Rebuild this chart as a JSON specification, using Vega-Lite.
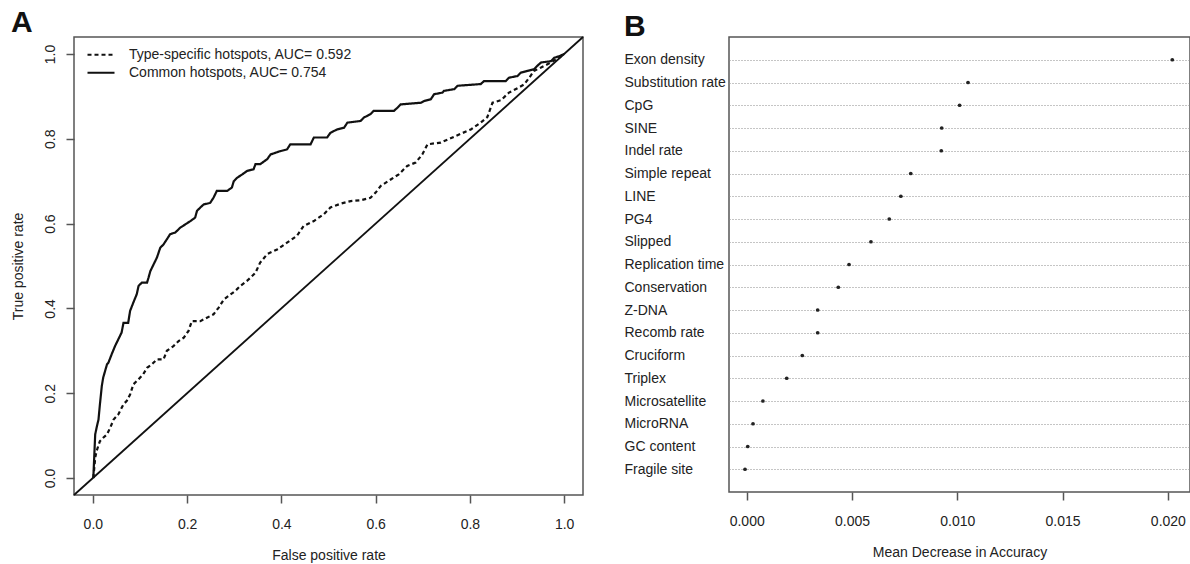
{
  "$schema": "https://vega.github.io/schema/vega-lite/v6.json",
  "background": "white",
  "padding": {"left": 10, "top": 7, "right": 0, "bottom": 0},
  "spacing": 146,
  "bounds": "flush",
  "resolve": {"scale": {"strokeDash": "independent"}, "legend": {"strokeDash": "independent"}},
  "hconcat": [
    {
      "width": 509,
      "height": 458,
      "title": {"text": "A"},
      "encoding": {
        "x": {"field": "x", "type": "quantitative", "scale": {"domain": [-0.04, 1.04], "nice": false, "zero": false},
          "axis": {"values": [0, 0.2, 0.4, 0.6, 0.8, 1], "format": ".1f", "title": "False positive rate", "labelPadding": 14, "titlePadding": 17, "labelFlush": false}},
        "y": {"field": "y", "type": "quantitative", "scale": {"domain": [-0.04, 1.04], "nice": false, "zero": false},
          "axis": {"values": [0, 0.2, 0.4, 0.6, 0.8, 1], "format": ".1f", "title": "True positive rate", "labelAngle": -90, "labelAlign": "center", "labelBaseline": "bottom", "labelPadding": 9, "titlePadding": 18, "labelFlush": false}}
      },
      "layer": [
        {
          "data": {"values": [{"x": -0.04, "y": -0.04}, {"x": 1.04, "y": 1.04}]},
          "mark": {"type": "line", "color": "#111", "strokeWidth": 1.8}
        },
        {
          "data": {"values": [
            {"s": "Type-specific hotspots, AUC= 0.592", "i": 0, "x": 0.001, "y": 0},
            {"s": "Type-specific hotspots, AUC= 0.592", "i": 1, "x": 0.005, "y": 0.048},
            {"s": "Type-specific hotspots, AUC= 0.592", "i": 2, "x": 0.008, "y": 0.064},
            {"s": "Type-specific hotspots, AUC= 0.592", "i": 3, "x": 0.015, "y": 0.087},
            {"s": "Type-specific hotspots, AUC= 0.592", "i": 4, "x": 0.022, "y": 0.095},
            {"s": "Type-specific hotspots, AUC= 0.592", "i": 5, "x": 0.030, "y": 0.103},
            {"s": "Type-specific hotspots, AUC= 0.592", "i": 6, "x": 0.037, "y": 0.119},
            {"s": "Type-specific hotspots, AUC= 0.592", "i": 7, "x": 0.044, "y": 0.138},
            {"s": "Type-specific hotspots, AUC= 0.592", "i": 8, "x": 0.054, "y": 0.150},
            {"s": "Type-specific hotspots, AUC= 0.592", "i": 9, "x": 0.065, "y": 0.174},
            {"s": "Type-specific hotspots, AUC= 0.592", "i": 10, "x": 0.072, "y": 0.182},
            {"s": "Type-specific hotspots, AUC= 0.592", "i": 11, "x": 0.079, "y": 0.197},
            {"s": "Type-specific hotspots, AUC= 0.592", "i": 12, "x": 0.086, "y": 0.221},
            {"s": "Type-specific hotspots, AUC= 0.592", "i": 13, "x": 0.097, "y": 0.233},
            {"s": "Type-specific hotspots, AUC= 0.592", "i": 14, "x": 0.107, "y": 0.245},
            {"s": "Type-specific hotspots, AUC= 0.592", "i": 15, "x": 0.115, "y": 0.260},
            {"s": "Type-specific hotspots, AUC= 0.592", "i": 16, "x": 0.125, "y": 0.268},
            {"s": "Type-specific hotspots, AUC= 0.592", "i": 17, "x": 0.136, "y": 0.280},
            {"s": "Type-specific hotspots, AUC= 0.592", "i": 18, "x": 0.150, "y": 0.280},
            {"s": "Type-specific hotspots, AUC= 0.592", "i": 19, "x": 0.157, "y": 0.300},
            {"s": "Type-specific hotspots, AUC= 0.592", "i": 20, "x": 0.171, "y": 0.311},
            {"s": "Type-specific hotspots, AUC= 0.592", "i": 21, "x": 0.182, "y": 0.323},
            {"s": "Type-specific hotspots, AUC= 0.592", "i": 22, "x": 0.193, "y": 0.331},
            {"s": "Type-specific hotspots, AUC= 0.592", "i": 23, "x": 0.203, "y": 0.347},
            {"s": "Type-specific hotspots, AUC= 0.592", "i": 24, "x": 0.210, "y": 0.370},
            {"s": "Type-specific hotspots, AUC= 0.592", "i": 25, "x": 0.228, "y": 0.370},
            {"s": "Type-specific hotspots, AUC= 0.592", "i": 26, "x": 0.242, "y": 0.378},
            {"s": "Type-specific hotspots, AUC= 0.592", "i": 27, "x": 0.256, "y": 0.386},
            {"s": "Type-specific hotspots, AUC= 0.592", "i": 28, "x": 0.267, "y": 0.402},
            {"s": "Type-specific hotspots, AUC= 0.592", "i": 29, "x": 0.278, "y": 0.421},
            {"s": "Type-specific hotspots, AUC= 0.592", "i": 30, "x": 0.292, "y": 0.433},
            {"s": "Type-specific hotspots, AUC= 0.592", "i": 31, "x": 0.302, "y": 0.441},
            {"s": "Type-specific hotspots, AUC= 0.592", "i": 32, "x": 0.313, "y": 0.453},
            {"s": "Type-specific hotspots, AUC= 0.592", "i": 33, "x": 0.327, "y": 0.465},
            {"s": "Type-specific hotspots, AUC= 0.592", "i": 34, "x": 0.334, "y": 0.472},
            {"s": "Type-specific hotspots, AUC= 0.592", "i": 35, "x": 0.345, "y": 0.484},
            {"s": "Type-specific hotspots, AUC= 0.592", "i": 36, "x": 0.355, "y": 0.508},
            {"s": "Type-specific hotspots, AUC= 0.592", "i": 37, "x": 0.370, "y": 0.528},
            {"s": "Type-specific hotspots, AUC= 0.592", "i": 38, "x": 0.391, "y": 0.539},
            {"s": "Type-specific hotspots, AUC= 0.592", "i": 39, "x": 0.412, "y": 0.555},
            {"s": "Type-specific hotspots, AUC= 0.592", "i": 40, "x": 0.433, "y": 0.571},
            {"s": "Type-specific hotspots, AUC= 0.592", "i": 41, "x": 0.447, "y": 0.594},
            {"s": "Type-specific hotspots, AUC= 0.592", "i": 42, "x": 0.469, "y": 0.606},
            {"s": "Type-specific hotspots, AUC= 0.592", "i": 43, "x": 0.490, "y": 0.622},
            {"s": "Type-specific hotspots, AUC= 0.592", "i": 44, "x": 0.504, "y": 0.638},
            {"s": "Type-specific hotspots, AUC= 0.592", "i": 45, "x": 0.526, "y": 0.647},
            {"s": "Type-specific hotspots, AUC= 0.592", "i": 46, "x": 0.547, "y": 0.653},
            {"s": "Type-specific hotspots, AUC= 0.592", "i": 47, "x": 0.568, "y": 0.655},
            {"s": "Type-specific hotspots, AUC= 0.592", "i": 48, "x": 0.589, "y": 0.661},
            {"s": "Type-specific hotspots, AUC= 0.592", "i": 49, "x": 0.600, "y": 0.673},
            {"s": "Type-specific hotspots, AUC= 0.592", "i": 50, "x": 0.611, "y": 0.689},
            {"s": "Type-specific hotspots, AUC= 0.592", "i": 51, "x": 0.632, "y": 0.704},
            {"s": "Type-specific hotspots, AUC= 0.592", "i": 52, "x": 0.649, "y": 0.716},
            {"s": "Type-specific hotspots, AUC= 0.592", "i": 53, "x": 0.667, "y": 0.736},
            {"s": "Type-specific hotspots, AUC= 0.592", "i": 54, "x": 0.685, "y": 0.744},
            {"s": "Type-specific hotspots, AUC= 0.592", "i": 55, "x": 0.699, "y": 0.763},
            {"s": "Type-specific hotspots, AUC= 0.592", "i": 56, "x": 0.710, "y": 0.787},
            {"s": "Type-specific hotspots, AUC= 0.592", "i": 57, "x": 0.738, "y": 0.791},
            {"s": "Type-specific hotspots, AUC= 0.592", "i": 58, "x": 0.759, "y": 0.801},
            {"s": "Type-specific hotspots, AUC= 0.592", "i": 59, "x": 0.781, "y": 0.812},
            {"s": "Type-specific hotspots, AUC= 0.592", "i": 60, "x": 0.802, "y": 0.822},
            {"s": "Type-specific hotspots, AUC= 0.592", "i": 61, "x": 0.823, "y": 0.838},
            {"s": "Type-specific hotspots, AUC= 0.592", "i": 62, "x": 0.837, "y": 0.851},
            {"s": "Type-specific hotspots, AUC= 0.592", "i": 63, "x": 0.848, "y": 0.885},
            {"s": "Type-specific hotspots, AUC= 0.592", "i": 64, "x": 0.866, "y": 0.891},
            {"s": "Type-specific hotspots, AUC= 0.592", "i": 65, "x": 0.883, "y": 0.909},
            {"s": "Type-specific hotspots, AUC= 0.592", "i": 66, "x": 0.901, "y": 0.919},
            {"s": "Type-specific hotspots, AUC= 0.592", "i": 67, "x": 0.915, "y": 0.928},
            {"s": "Type-specific hotspots, AUC= 0.592", "i": 68, "x": 0.926, "y": 0.944},
            {"s": "Type-specific hotspots, AUC= 0.592", "i": 69, "x": 0.936, "y": 0.960},
            {"s": "Type-specific hotspots, AUC= 0.592", "i": 70, "x": 0.951, "y": 0.968},
            {"s": "Type-specific hotspots, AUC= 0.592", "i": 71, "x": 0.972, "y": 0.980},
            {"s": "Type-specific hotspots, AUC= 0.592", "i": 72, "x": 0.990, "y": 0.992},
            {"s": "Type-specific hotspots, AUC= 0.592", "i": 73, "x": 1.0, "y": 1.0},
            {"s": "Common hotspots, AUC= 0.754", "i": 0, "x": 0.001, "y": 0},
            {"s": "Common hotspots, AUC= 0.754", "i": 1, "x": 0.005, "y": 0.103},
            {"s": "Common hotspots, AUC= 0.754", "i": 2, "x": 0.008, "y": 0.119},
            {"s": "Common hotspots, AUC= 0.754", "i": 3, "x": 0.012, "y": 0.138},
            {"s": "Common hotspots, AUC= 0.754", "i": 4, "x": 0.015, "y": 0.174},
            {"s": "Common hotspots, AUC= 0.754", "i": 5, "x": 0.019, "y": 0.217},
            {"s": "Common hotspots, AUC= 0.754", "i": 6, "x": 0.022, "y": 0.237},
            {"s": "Common hotspots, AUC= 0.754", "i": 7, "x": 0.030, "y": 0.268},
            {"s": "Common hotspots, AUC= 0.754", "i": 8, "x": 0.033, "y": 0.272},
            {"s": "Common hotspots, AUC= 0.754", "i": 9, "x": 0.040, "y": 0.292},
            {"s": "Common hotspots, AUC= 0.754", "i": 10, "x": 0.047, "y": 0.311},
            {"s": "Common hotspots, AUC= 0.754", "i": 11, "x": 0.054, "y": 0.327},
            {"s": "Common hotspots, AUC= 0.754", "i": 12, "x": 0.061, "y": 0.343},
            {"s": "Common hotspots, AUC= 0.754", "i": 13, "x": 0.065, "y": 0.366},
            {"s": "Common hotspots, AUC= 0.754", "i": 14, "x": 0.075, "y": 0.366},
            {"s": "Common hotspots, AUC= 0.754", "i": 15, "x": 0.079, "y": 0.394},
            {"s": "Common hotspots, AUC= 0.754", "i": 16, "x": 0.086, "y": 0.414},
            {"s": "Common hotspots, AUC= 0.754", "i": 17, "x": 0.093, "y": 0.433},
            {"s": "Common hotspots, AUC= 0.754", "i": 18, "x": 0.097, "y": 0.453},
            {"s": "Common hotspots, AUC= 0.754", "i": 19, "x": 0.104, "y": 0.461},
            {"s": "Common hotspots, AUC= 0.754", "i": 20, "x": 0.115, "y": 0.461},
            {"s": "Common hotspots, AUC= 0.754", "i": 21, "x": 0.118, "y": 0.472},
            {"s": "Common hotspots, AUC= 0.754", "i": 22, "x": 0.122, "y": 0.488},
            {"s": "Common hotspots, AUC= 0.754", "i": 23, "x": 0.129, "y": 0.504},
            {"s": "Common hotspots, AUC= 0.754", "i": 24, "x": 0.136, "y": 0.520},
            {"s": "Common hotspots, AUC= 0.754", "i": 25, "x": 0.143, "y": 0.543},
            {"s": "Common hotspots, AUC= 0.754", "i": 26, "x": 0.150, "y": 0.551},
            {"s": "Common hotspots, AUC= 0.754", "i": 27, "x": 0.157, "y": 0.563},
            {"s": "Common hotspots, AUC= 0.754", "i": 28, "x": 0.164, "y": 0.575},
            {"s": "Common hotspots, AUC= 0.754", "i": 29, "x": 0.175, "y": 0.579},
            {"s": "Common hotspots, AUC= 0.754", "i": 30, "x": 0.185, "y": 0.590},
            {"s": "Common hotspots, AUC= 0.754", "i": 31, "x": 0.196, "y": 0.598},
            {"s": "Common hotspots, AUC= 0.754", "i": 32, "x": 0.207, "y": 0.606},
            {"s": "Common hotspots, AUC= 0.754", "i": 33, "x": 0.217, "y": 0.614},
            {"s": "Common hotspots, AUC= 0.754", "i": 34, "x": 0.221, "y": 0.630},
            {"s": "Common hotspots, AUC= 0.754", "i": 35, "x": 0.228, "y": 0.638},
            {"s": "Common hotspots, AUC= 0.754", "i": 36, "x": 0.235, "y": 0.645},
            {"s": "Common hotspots, AUC= 0.754", "i": 37, "x": 0.249, "y": 0.649},
            {"s": "Common hotspots, AUC= 0.754", "i": 38, "x": 0.256, "y": 0.661},
            {"s": "Common hotspots, AUC= 0.754", "i": 39, "x": 0.263, "y": 0.677},
            {"s": "Common hotspots, AUC= 0.754", "i": 40, "x": 0.285, "y": 0.677},
            {"s": "Common hotspots, AUC= 0.754", "i": 41, "x": 0.295, "y": 0.685},
            {"s": "Common hotspots, AUC= 0.754", "i": 42, "x": 0.299, "y": 0.700},
            {"s": "Common hotspots, AUC= 0.754", "i": 43, "x": 0.306, "y": 0.708},
            {"s": "Common hotspots, AUC= 0.754", "i": 44, "x": 0.317, "y": 0.716},
            {"s": "Common hotspots, AUC= 0.754", "i": 45, "x": 0.327, "y": 0.724},
            {"s": "Common hotspots, AUC= 0.754", "i": 46, "x": 0.341, "y": 0.728},
            {"s": "Common hotspots, AUC= 0.754", "i": 47, "x": 0.345, "y": 0.740},
            {"s": "Common hotspots, AUC= 0.754", "i": 48, "x": 0.355, "y": 0.740},
            {"s": "Common hotspots, AUC= 0.754", "i": 49, "x": 0.370, "y": 0.752},
            {"s": "Common hotspots, AUC= 0.754", "i": 50, "x": 0.377, "y": 0.763},
            {"s": "Common hotspots, AUC= 0.754", "i": 51, "x": 0.398, "y": 0.771},
            {"s": "Common hotspots, AUC= 0.754", "i": 52, "x": 0.412, "y": 0.775},
            {"s": "Common hotspots, AUC= 0.754", "i": 53, "x": 0.419, "y": 0.787},
            {"s": "Common hotspots, AUC= 0.754", "i": 54, "x": 0.462, "y": 0.787},
            {"s": "Common hotspots, AUC= 0.754", "i": 55, "x": 0.469, "y": 0.803},
            {"s": "Common hotspots, AUC= 0.754", "i": 56, "x": 0.497, "y": 0.803},
            {"s": "Common hotspots, AUC= 0.754", "i": 57, "x": 0.504, "y": 0.814},
            {"s": "Common hotspots, AUC= 0.754", "i": 58, "x": 0.518, "y": 0.822},
            {"s": "Common hotspots, AUC= 0.754", "i": 59, "x": 0.533, "y": 0.826},
            {"s": "Common hotspots, AUC= 0.754", "i": 60, "x": 0.540, "y": 0.838},
            {"s": "Common hotspots, AUC= 0.754", "i": 61, "x": 0.568, "y": 0.842},
            {"s": "Common hotspots, AUC= 0.754", "i": 62, "x": 0.575, "y": 0.850},
            {"s": "Common hotspots, AUC= 0.754", "i": 63, "x": 0.589, "y": 0.858},
            {"s": "Common hotspots, AUC= 0.754", "i": 64, "x": 0.596, "y": 0.866},
            {"s": "Common hotspots, AUC= 0.754", "i": 65, "x": 0.639, "y": 0.866},
            {"s": "Common hotspots, AUC= 0.754", "i": 66, "x": 0.646, "y": 0.873},
            {"s": "Common hotspots, AUC= 0.754", "i": 67, "x": 0.653, "y": 0.881},
            {"s": "Common hotspots, AUC= 0.754", "i": 68, "x": 0.696, "y": 0.885},
            {"s": "Common hotspots, AUC= 0.754", "i": 69, "x": 0.703, "y": 0.889},
            {"s": "Common hotspots, AUC= 0.754", "i": 70, "x": 0.717, "y": 0.893},
            {"s": "Common hotspots, AUC= 0.754", "i": 71, "x": 0.724, "y": 0.905},
            {"s": "Common hotspots, AUC= 0.754", "i": 72, "x": 0.742, "y": 0.909},
            {"s": "Common hotspots, AUC= 0.754", "i": 73, "x": 0.745, "y": 0.913},
            {"s": "Common hotspots, AUC= 0.754", "i": 74, "x": 0.767, "y": 0.917},
            {"s": "Common hotspots, AUC= 0.754", "i": 75, "x": 0.774, "y": 0.925},
            {"s": "Common hotspots, AUC= 0.754", "i": 76, "x": 0.823, "y": 0.929},
            {"s": "Common hotspots, AUC= 0.754", "i": 77, "x": 0.830, "y": 0.936},
            {"s": "Common hotspots, AUC= 0.754", "i": 78, "x": 0.876, "y": 0.936},
            {"s": "Common hotspots, AUC= 0.754", "i": 79, "x": 0.883, "y": 0.944},
            {"s": "Common hotspots, AUC= 0.754", "i": 80, "x": 0.901, "y": 0.948},
            {"s": "Common hotspots, AUC= 0.754", "i": 81, "x": 0.908, "y": 0.956},
            {"s": "Common hotspots, AUC= 0.754", "i": 82, "x": 0.922, "y": 0.960},
            {"s": "Common hotspots, AUC= 0.754", "i": 83, "x": 0.936, "y": 0.964},
            {"s": "Common hotspots, AUC= 0.754", "i": 84, "x": 0.943, "y": 0.972},
            {"s": "Common hotspots, AUC= 0.754", "i": 85, "x": 0.951, "y": 0.980},
            {"s": "Common hotspots, AUC= 0.754", "i": 86, "x": 0.972, "y": 0.983},
            {"s": "Common hotspots, AUC= 0.754", "i": 87, "x": 0.979, "y": 0.991},
            {"s": "Common hotspots, AUC= 0.754", "i": 88, "x": 0.990, "y": 0.995},
            {"s": "Common hotspots, AUC= 0.754", "i": 89, "x": 1.0, "y": 1.0}
          ]},
          "mark": {"type": "line", "color": "#111", "strokeWidth": 2.2},
          "encoding": {
            "order": {"field": "i", "type": "quantitative"},
            "strokeDash": {"field": "s", "type": "nominal",
              "scale": {"domain": ["Type-specific hotspots, AUC= 0.592", "Common hotspots, AUC= 0.754"], "range": [[4, 3], [1, 0]]},
              "legend": {"title": null, "orient": "none", "legendX": 12, "legendY": 9, "symbolType": "stroke", "symbolSize": 729, "symbolStrokeWidth": 2.2, "symbolStrokeColor": "#111", "labelFont": "Liberation Sans", "labelFontSize": 14, "labelColor": "#222", "labelOffset": 13, "clipHeight": 17.5, "rowPadding": 0, "padding": 0, "labelLimit": 400}}
          }
        }
      ]
    },
    {
      "width": 461,
      "height": 455,
      "title": {"text": "B"},
      "data": {"values": [
        {"v": "Exon density", "mda": 0.02021},
        {"v": "Substitution rate", "mda": 0.01051},
        {"v": "CpG", "mda": 0.01011},
        {"v": "SINE", "mda": 0.00926},
        {"v": "Indel rate", "mda": 0.00924},
        {"v": "Simple repeat", "mda": 0.00779},
        {"v": "LINE", "mda": 0.00732},
        {"v": "PG4", "mda": 0.00677},
        {"v": "Slipped", "mda": 0.0059},
        {"v": "Replication time", "mda": 0.00486},
        {"v": "Conservation", "mda": 0.00435},
        {"v": "Z-DNA", "mda": 0.00337},
        {"v": "Recomb rate", "mda": 0.00337},
        {"v": "Cruciform", "mda": 0.00264},
        {"v": "Triplex", "mda": 0.0019},
        {"v": "Microsatellite", "mda": 0.00077},
        {"v": "MicroRNA", "mda": 0.0003},
        {"v": "GC content", "mda": 0.00005},
        {"v": "Fragile site", "mda": -0.00008}
      ]},
      "mark": {"type": "point", "filled": true, "color": "#222", "size": 14, "opacity": 1},
      "encoding": {
        "x": {"field": "mda", "type": "quantitative", "scale": {"domain": [-0.00084, 0.02105], "nice": false, "zero": false},
          "axis": {"values": [0, 0.005, 0.01, 0.015, 0.02], "format": ".3f", "title": "Mean Decrease in Accuracy", "labelPadding": 14, "titlePadding": 17, "labelFlush": false}},
        "y": {"field": "v", "type": "nominal", "sort": null, "scale": {"type": "point", "padding": 1},
          "axis": {"title": null, "ticks": false, "tickSize": 0, "labelAlign": "left", "labelBaseline": "middle", "labelPadding": 105, "grid": true, "gridColor": "#8a8a8a", "gridDash": [1, 2], "gridWidth": 1}}
      }
    }
  ],
  "config": {
    "font": "Liberation Sans",
    "view": {"stroke": "#555", "strokeWidth": 1.5},
    "axis": {"labelFont": "Liberation Sans", "labelFontSize": 14, "labelColor": "#222", "titleFont": "Liberation Sans", "titleFontSize": 14, "titleFontWeight": "normal", "titleColor": "#222", "tickColor": "#555", "tickSize": 8, "tickWidth": 1.5, "domain": false, "grid": false},
    "title": {"font": "Liberation Sans", "fontSize": 30, "fontWeight": "bold", "anchor": "start", "frame": "bounds", "color": "#111", "offset": -5}
  }
}
